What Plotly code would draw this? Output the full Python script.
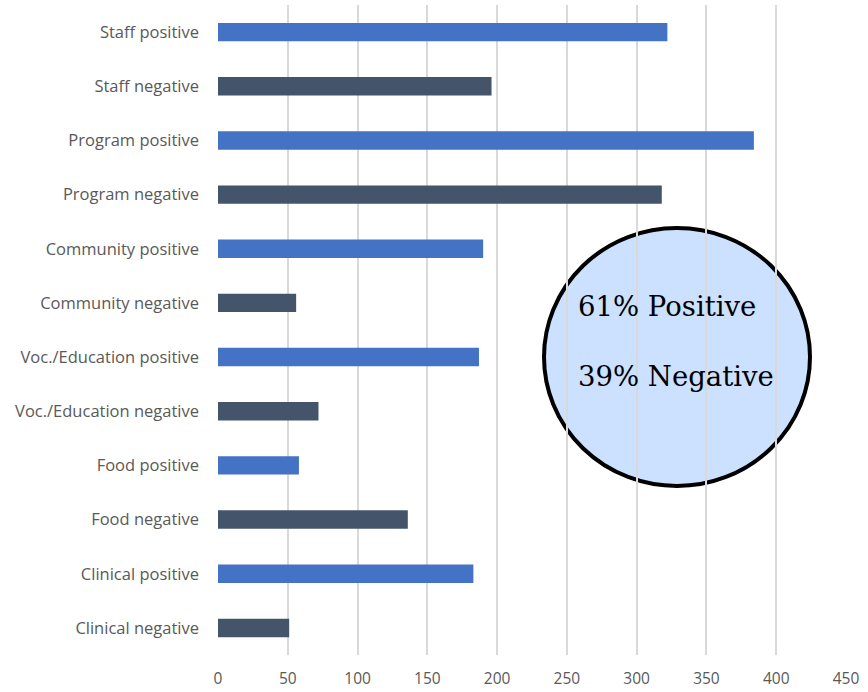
import plotly.graph_objects as go

categories = [
    "Staff positive", "Staff negative",
    "Program positive", "Program negative",
    "Community positive", "Community negative",
    "Voc./Education positive", "Voc./Education negative",
    "Food positive", "Food negative",
    "Clinical positive", "Clinical negative",
]
values = [322, 196, 384, 318, 190, 56, 187, 72, 58, 136, 183, 51]
colors = ["#4472C4" if "positive" in c else "#44546A" for c in categories]
x_ticks = [0, 50, 100, 150, 200, 250, 300, 350, 400, 450]

fig = go.Figure(go.Bar(
    x=values, y=categories, orientation="h",
    marker=dict(color=colors, line=dict(width=0)),
    width=0.34,
))

fig.update_layout(
    width=868, height=692,
    margin=dict(l=218, r=22, t=5, b=37),
    paper_bgcolor="white", plot_bgcolor="rgba(0,0,0,0)",
    showlegend=False,
    font=dict(family="Open Sans", size=16, color="#595959"),
    bargap=0.66,
)
fig.update_xaxes(
    range=[0, 450], tickvals=x_ticks, showgrid=True,
    gridcolor="#D9D9D9", gridwidth=2, zeroline=False,
    showline=False, ticks="", ticklabelstandoff=12, automargin=False,
    tickfont=dict(size=15.5, color="#595959"),
)
fig.update_yaxes(
    autorange="reversed", showgrid=False, zeroline=False, automargin=False,
    ticks="", ticklabelstandoff=18, tickfont=dict(size=16.5, color="#595959"),
)

# Summary callout (circle) in paper coordinates
fig.add_shape(
    type="circle", xref="paper", yref="paper",
    x0=(544 - 218) / 628, x1=(810 - 218) / 628,
    y0=(655 - 486) / 650, y1=(655 - 228) / 650,
    fillcolor="#CCE0FF", line=dict(color="black", width=4),
    layer="below",
)
fig.add_annotation(
    x=(576 - 218) / 628, y=(655 - 306) / 650, xref="paper", yref="paper",
    text="61% Positive", showarrow=False, xanchor="left",
    font=dict(family="DejaVu Serif", size=27.5, color="black"),
)
fig.add_annotation(
    x=(576 - 218) / 628, y=(655 - 376) / 650, xref="paper", yref="paper",
    text="39% Negative", showarrow=False, xanchor="left",
    font=dict(family="DejaVu Serif", size=27.5, color="black"),
)

fig.write_html("out.html")
